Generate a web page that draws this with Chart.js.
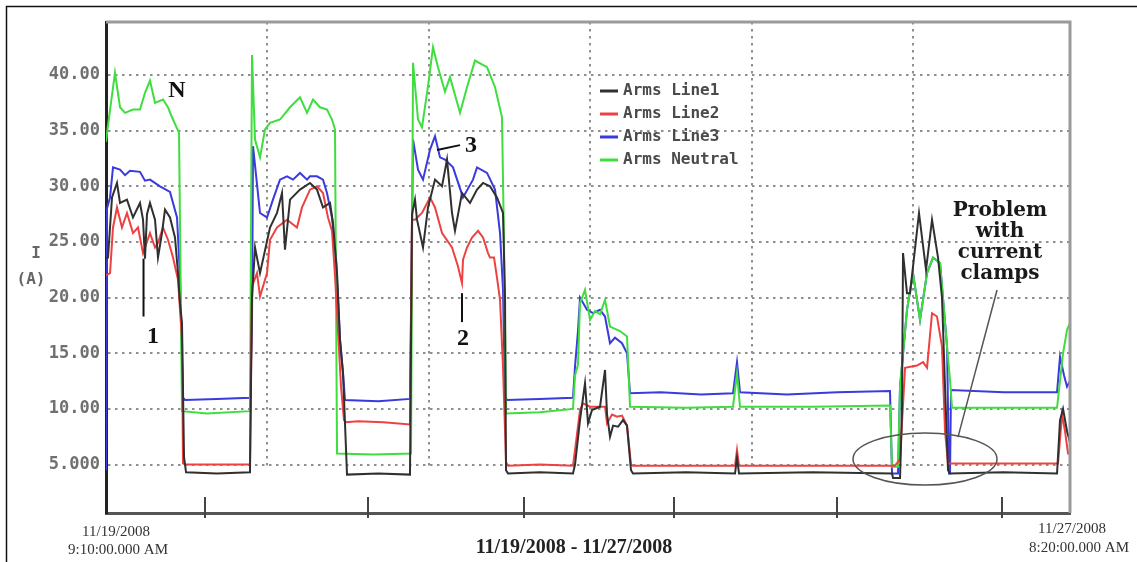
<!DOCTYPE html>
<html lang="en">
<head>
<meta charset="UTF-8" />
<title>Arms currents 11/19/2008 - 11/27/2008</title>
<script src="https://cdn.jsdelivr.net/npm/chart.js@4.4.1/dist/chart.umd.min.js"></script>
<style>
  body { margin: 0; background: #fff; }
  #wrap { position: relative; width: 1137px; height: 562px; }
</style>
</head>
<body>
<div id="wrap"><canvas id="arms-chart"></canvas></div>
<script>
// [hours since 11/19/2008 9:10 AM, amps]
const line1 = [[0,23.5],[0.4,23.6],[1.19,29.0],[2.18,30.3],[2.78,28.5],[4.16,28.8],[5.35,27.2],[6.74,28.5],[7.34,27.0],[7.73,23.5],[8.13,27.5],[8.72,28.5],[9.72,27.0],[10.31,23.6],[11.10,25.8],[11.70,27.9],[12.69,27.2],[13.68,25.4],[14.28,22.2],[14.67,19.5],[15.07,17.7],[15.47,5.7],[15.87,4.3],[22.0,4.2],[28.55,4.3],[28.95,20.0],[29.55,24.5],[30.54,22.2],[32.52,26.3],[33.91,27.6],[34.90,29.4],[35.49,24.3],[36.49,28.8],[38.47,29.7],[40.45,30.3],[41.84,29.7],[43.03,28.1],[44.42,28.5],[45.01,26.7],[45.81,22.2],[46.40,16.2],[47.00,13.2],[47.79,4.1],[54.0,4.2],[60.28,4.1],[60.68,27.5],[61.27,28.8],[61.67,27.0],[62.86,24.5],[63.85,28.1],[65.24,30.6],[66.63,30.0],[67.62,32.4],[68.61,27.6],[69.20,26.0],[70.59,29.4],[72.18,28.5],[73.57,29.7],[74.76,30.3],[76.14,30.0],[77.53,29.0],[78.72,27.6],[79.12,20.0],[79.32,4.5],[79.72,4.2],[86.0,4.3],[92.60,4.2],[93.00,5.0],[93.99,9.0],[94.98,12.3],[95.58,8.7],[96.37,9.9],[97.96,10.2],[98.95,13.5],[99.35,9.5],[99.94,7.5],[100.54,8.5],[101.53,8.4],[102.52,9.0],[103.31,8.5],[104.10,4.5],[104.50,4.2],[115.0,4.3],[124.73,4.2],[125.12,5.6],[125.52,4.2],[140.0,4.3],[155.86,4.2],[156.06,3.8],[157.45,3.8],[157.84,10.0],[158.04,24.0],[158.83,20.4],[159.43,20.4],[161.21,27.6],[162.60,22.5],[163.79,27.0],[164.98,23.6],[165.77,20.0],[166.37,12.0],[166.96,4.5],[167.36,4.2],[178.0,4.3],[188.58,4.2],[189.17,9.0],[189.77,10.0],[190.56,8.0],[191.15,7.0]];

const line2 = [[0,22.0],[0.8,22.2],[1.39,26.3],[2.18,28.1],[3.17,26.3],[4.16,27.6],[5.35,25.8],[6.35,26.3],[7.34,24.0],[8.72,25.8],[9.72,24.5],[10.31,24.9],[11.30,26.3],[12.29,25.2],[13.29,23.6],[14.28,21.6],[15.07,16.2],[15.27,5.1],[15.67,5.0],[22.0,5.0],[28.55,5.0],[28.95,21.0],[29.94,22.2],[30.54,20.1],[31.93,22.2],[32.52,25.2],[33.91,26.3],[35.89,27.0],[37.87,26.3],[38.87,28.1],[40.45,29.7],[41.84,30.0],[43.03,29.4],[44.02,27.2],[44.81,26.0],[45.41,22.0],[46.00,17.0],[46.60,12.0],[47.19,9.0],[47.59,8.8],[50.0,8.9],[55.0,8.8],[60.28,8.6],[60.68,27.0],[61.27,27.0],[62.66,27.6],[64.25,29.0],[65.24,28.1],[66.63,25.8],[68.61,24.5],[69.80,22.8],[70.59,21.3],[70.79,23.4],[71.58,24.5],[72.58,25.4],[73.77,26.0],[74.76,25.4],[75.75,24.0],[76.14,23.6],[76.94,23.6],[77.53,21.8],[78.13,19.8],[78.72,13.8],[79.32,5.2],[79.72,4.9],[86.0,5.0],[92.60,4.9],[93.00,6.3],[93.99,9.9],[94.59,10.5],[95.98,10.2],[98.95,10.2],[99.35,8.7],[100.34,9.5],[101.33,9.3],[102.32,9.4],[103.31,8.5],[104.10,5.0],[104.50,4.9],[115.0,4.9],[124.73,4.9],[125.12,6.3],[125.52,4.9],[140.0,4.9],[156.45,4.9],[157.45,5.5],[158.44,13.7],[160.82,13.9],[162.01,14.2],[162.80,13.7],[163.79,18.6],[164.78,18.3],[165.77,15.6],[166.37,8.0],[166.96,5.1],[178.0,5.1],[188.78,5.1],[189.57,9.5],[190.16,8.0],[190.76,6.0],[191.15,6.0]];

const line3 = [[0,4.5],[0.2,28.0],[0.8,29.0],[1.39,31.7],[2.78,31.5],[3.77,31.0],[4.76,31.4],[6.74,31.3],[7.73,30.5],[8.72,30.6],[10.71,30.0],[12.69,29.5],[14.08,27.2],[14.67,22.0],[15.27,11.0],[15.67,10.8],[22.0,10.9],[28.55,11.0],[28.95,17.7],[29.15,33.6],[30.54,27.6],[31.93,27.2],[33.11,28.8],[34.50,30.6],[35.89,30.9],[37.08,30.6],[38.47,31.2],[39.86,30.6],[40.45,30.9],[41.84,30.9],[43.03,30.6],[43.82,29.4],[44.81,27.2],[45.61,23.6],[46.40,16.2],[47.00,13.2],[47.39,10.8],[54.0,10.7],[60.28,10.9],[60.88,34.2],[61.87,31.5],[62.86,30.6],[64.25,33.3],[65.24,34.5],[66.23,32.6],[67.22,32.4],[68.81,31.7],[70.79,29.0],[72.77,30.6],[73.57,31.7],[75.55,31.2],[77.14,29.7],[78.13,25.8],[78.72,20.7],[79.12,11.1],[79.52,10.8],[86.0,10.9],[92.60,11.0],[93.00,13.8],[93.59,17.0],[93.99,20.0],[95.38,18.9],[96.57,18.6],[97.96,18.9],[98.95,18.3],[99.94,15.9],[100.93,16.4],[102.32,15.9],[103.31,15.0],[103.91,11.4],[110.0,11.5],[118.0,11.3],[124.33,11.4],[125.12,14.2],[125.72,11.5],[135.0,11.3],[145.0,11.5],[155.46,11.6],[155.86,4.2],[157.05,4.2],[157.45,12.0],[158.83,18.9],[160.02,22.2],[161.41,18.0],[162.80,22.2],[163.99,23.6],[165.38,23.1],[166.77,15.6],[167.16,4.2],[167.36,4.2],[167.56,11.7],[178.0,11.5],[188.58,11.5],[189.17,14.7],[189.97,13.0],[190.56,12.0],[191.15,12.5]];

const neutral = [[0,34.0],[0.4,35.5],[1.78,40.2],[2.78,37.1],[3.77,36.6],[5.35,36.9],[6.74,36.9],[7.73,38.4],[8.72,39.5],[9.72,37.5],[11.30,37.8],[12.29,37.1],[13.09,36.2],[14.08,35.2],[14.48,34.8],[15.07,9.8],[20.0,9.6],[28.55,9.8],[28.95,41.8],[29.55,34.2],[30.54,32.6],[31.53,35.1],[32.52,35.7],[34.50,36.0],[36.49,37.1],[38.47,38.0],[39.86,36.6],[41.05,37.8],[42.43,37.1],[43.82,36.9],[44.81,36.0],[45.41,35.1],[45.81,6.0],[53.0,5.9],[60.48,6.0],[60.88,41.1],[61.87,36.0],[62.66,35.3],[63.85,39.0],[64.84,42.5],[65.83,40.7],[67.22,38.5],[68.21,39.8],[70.20,36.6],[71.58,38.9],[73.17,41.3],[75.55,40.7],[77.14,38.9],[78.52,36.2],[78.92,25.0],[79.32,9.6],[86.0,9.7],[92.60,10.0],[93.00,13.0],[93.59,14.0],[93.99,19.5],[94.98,20.7],[95.98,18.0],[96.97,18.8],[97.96,18.5],[98.95,19.8],[99.94,17.4],[101.92,17.0],[103.31,16.5],[103.91,10.2],[115.0,10.1],[124.33,10.2],[125.12,13.2],[125.72,10.2],[140.0,10.2],[155.46,10.3],[155.86,4.8],[157.05,4.8],[157.45,12.0],[158.83,18.9],[160.02,22.2],[161.41,18.0],[162.80,22.2],[163.99,23.6],[165.38,23.1],[166.77,15.6],[167.36,12.6],[167.76,10.1],[178.0,10.1],[188.58,10.1],[189.77,15.0],[190.56,17.1],[191.15,17.7]];

const seriesNames = ["Arms Line1", "Arms Line2", "Arms Line3", "Arms Neutral"];
const seriesColors = ["#303030", "#ee4242", "#3a3ade", "#3ede3e"];
const yTicks = [5, 10, 15, 20, 25, 30, 35, 40];
const yTickLabels = ["5.000", "10.00", "15.00", "20.00", "25.00", "30.00", "35.00", "40.00"];
const gridHours = [32, 64, 96, 128, 160];
const axisMarkHours = [19.63, 51.95, 82.89, 112.63, 144.95, 177.67];
const startLabel = ["11/19/2008", "9:10:00.000 AM"];
const endLabel = ["11/27/2008", "8:20:00.000 AM"];
const rangeLabel = "11/19/2008 - 11/27/2008";
const yTitle = ["I", "(A)"];

// callouts, in hours / amps
const callouts = [
  { text: "N", h: 14.08, a: 38.56 },
  { text: "1", h: 9.32, a: 16.46 },
  { text: "2", h: 70.79, a: 16.28 },
  { text: "3", h: 72.38, a: 33.62 }
];
const calloutLines = [[7.44, 23.5, 7.44, 18.3], [70.59, 20.4, 70.59, 17.8], [65.63, 33.26, 70.20, 33.7]];
const problemText = ["Problem", "with", "current", "clamps"];

const decorations = {
  id: "decorations",
  beforeDraw(chart) {
    const ctx = chart.ctx;
    ctx.save();
    ctx.strokeStyle = "#111";
    ctx.lineWidth = 1.5;
    ctx.beginPath();
    ctx.moveTo(6.5, 562);
    ctx.lineTo(6.5, 6.5);
    ctx.lineTo(1137, 6.5);
    ctx.stroke();
    ctx.restore();
  },
  beforeDatasetsDraw(chart) {
    const { ctx, chartArea, scales: { x, y } } = chart;
    ctx.save();
    ctx.strokeStyle = "#8f8f8f";
    ctx.lineWidth = 2;
    ctx.setLineDash([2.5, 4.5]);
    gridHours.forEach((h) => {
      const px = Math.round(x.getPixelForValue(h));
      ctx.beginPath();
      ctx.moveTo(px, chartArea.top);
      ctx.lineTo(px, y.getPixelForValue(4.6));
      ctx.stroke();
    });
    ctx.restore();
  },
  afterDatasetsDraw(chart) {
    const { ctx, chartArea, scales: { x, y } } = chart;
    ctx.save();

    // top and right frame of the plot
    ctx.strokeStyle = "#9a9a9a";
    ctx.lineWidth = 3;
    ctx.beginPath();
    ctx.moveTo(chartArea.left, chartArea.top);
    ctx.lineTo(chartArea.right, chartArea.top);
    ctx.lineTo(chartArea.right, chartArea.bottom);
    ctx.stroke();

    // marks on the time axis
    ctx.strokeStyle = "#444";
    ctx.lineWidth = 2;
    axisMarkHours.forEach((h) => {
      const px = Math.round(x.getPixelForValue(h));
      ctx.beginPath();
      ctx.moveTo(px, chartArea.bottom - 16);
      ctx.lineTo(px, chartArea.bottom + 5);
      ctx.stroke();
    });

    // legend
    ctx.font = 'bold 16px "DejaVu Sans Mono"';
    ctx.textBaseline = "middle";
    ctx.textAlign = "left";
    seriesNames.forEach((name, i) => {
      const ly = 91 + i * 23;
      ctx.strokeStyle = seriesColors[i];
      ctx.lineWidth = 3;
      ctx.beginPath();
      ctx.moveTo(600, ly);
      ctx.lineTo(618, ly);
      ctx.stroke();
      ctx.fillStyle = "#4a4a4a";
      ctx.fillText(name, 623, ly);
    });

    // callouts
    ctx.strokeStyle = "#111";
    ctx.lineWidth = 2;
    calloutLines.forEach((l) => {
      ctx.beginPath();
      ctx.moveTo(x.getPixelForValue(l[0]), y.getPixelForValue(l[1]));
      ctx.lineTo(x.getPixelForValue(l[2]), y.getPixelForValue(l[3]));
      ctx.stroke();
    });
    ctx.fillStyle = "#111";
    ctx.textAlign = "center";
    ctx.font = 'bold 24px "Liberation Serif"';
    callouts.forEach((c) => {
      ctx.fillText(c.text, x.getPixelForValue(c.h), y.getPixelForValue(c.a));
    });

    // problem with current clamps
    ctx.font = 'bold 20px "DejaVu Serif"';
    ctx.fillStyle = "#1a1a1a";
    const tx = x.getPixelForValue(177.27);
    const ty = y.getPixelForValue(27.78);
    problemText.forEach((t, i) => ctx.fillText(t, tx, ty + i * 21));
    ctx.strokeStyle = "#555";
    ctx.lineWidth = 1.5;
    const ex = x.getPixelForValue(162.4);
    const ey = y.getPixelForValue(5.5);
    const rx = x.getPixelForValue(162.4 + 14.28) - ex;
    const ry = y.getPixelForValue(5.5) - y.getPixelForValue(5.5 + 2.34);
    ctx.beginPath();
    ctx.ellipse(ex, ey, rx, ry, 0, 0, Math.PI * 2);
    ctx.stroke();
    ctx.beginPath();
    ctx.moveTo(x.getPixelForValue(168.94), y.getPixelForValue(7.47));
    ctx.lineTo(x.getPixelForValue(176.68), y.getPixelForValue(20.68));
    ctx.stroke();

    // y axis title
    ctx.fillStyle = "#666";
    ctx.font = 'bold 16px "DejaVu Sans Mono"';
    ctx.fillText(yTitle[0], 36, 254);
    ctx.fillText(yTitle[1], 31, 280);

    // time labels
    ctx.fillStyle = "#333";
    ctx.font = '15px "Liberation Serif"';
    ctx.fillText(startLabel[0], 116, 532);
    ctx.fillText(startLabel[1], 118, 550);
    ctx.fillText(endLabel[0], 1072, 529);
    ctx.fillText(endLabel[1], 1079, 548);
    ctx.font = 'bold 20px "Liberation Serif"';
    ctx.fillStyle = "#222";
    ctx.fillText(rangeLabel, 574, 548);

    ctx.restore();
  }
};

const toXY = (pts) => pts.map((p) => ({ x: p[0], y: p[1] }));
const allSeries = [line1, line2, line3, neutral];
const drawOrder = [0, 1, 3, 2];

new Chart(document.getElementById("arms-chart"), {
  type: "line",
  data: {
    datasets: allSeries.map((pts, i) => ({
      label: seriesNames[i],
      data: toXY(pts),
      borderColor: seriesColors[i],
      borderWidth: 2,
      pointRadius: 0,
      tension: 0,
      fill: false,
      order: drawOrder[i],
    })),
  },
  options: {
    responsive: true,
    maintainAspectRatio: false,
    animation: false,
    layout: { padding: { left: 0, top: 22, right: 67, bottom: 0 } },
    plugins: { legend: { display: false }, tooltip: { enabled: false } },
    scales: {
      x: {
        type: "linear",
        min: 0,
        max: 191.15,
        ticks: { display: false },
        grid: { display: false },
        border: { display: true, color: "#555", width: 3 },
        afterFit: (s) => { s.height = 49; },
      },
      y: {
        min: 0.65,
        max: 44.76,
        afterBuildTicks: (s) => { s.ticks = yTicks.map((v) => ({ value: v })); },
        ticks: {
          padding: 6,
          color: "#707070",
          font: { family: "DejaVu Sans Mono", size: 17, weight: "bold" },
          callback: (v) => yTickLabels[yTicks.indexOf(v)],
        },
        grid: { color: "#8f8f8f", lineWidth: 2, drawTicks: false },
        border: { display: true, color: "#222", width: 3, dash: [2.5, 4.5] },
        afterFit: (s) => { s.width = 106; },
      },
    },
  },
  plugins: [decorations],
});
</script>
</body>
</html>
